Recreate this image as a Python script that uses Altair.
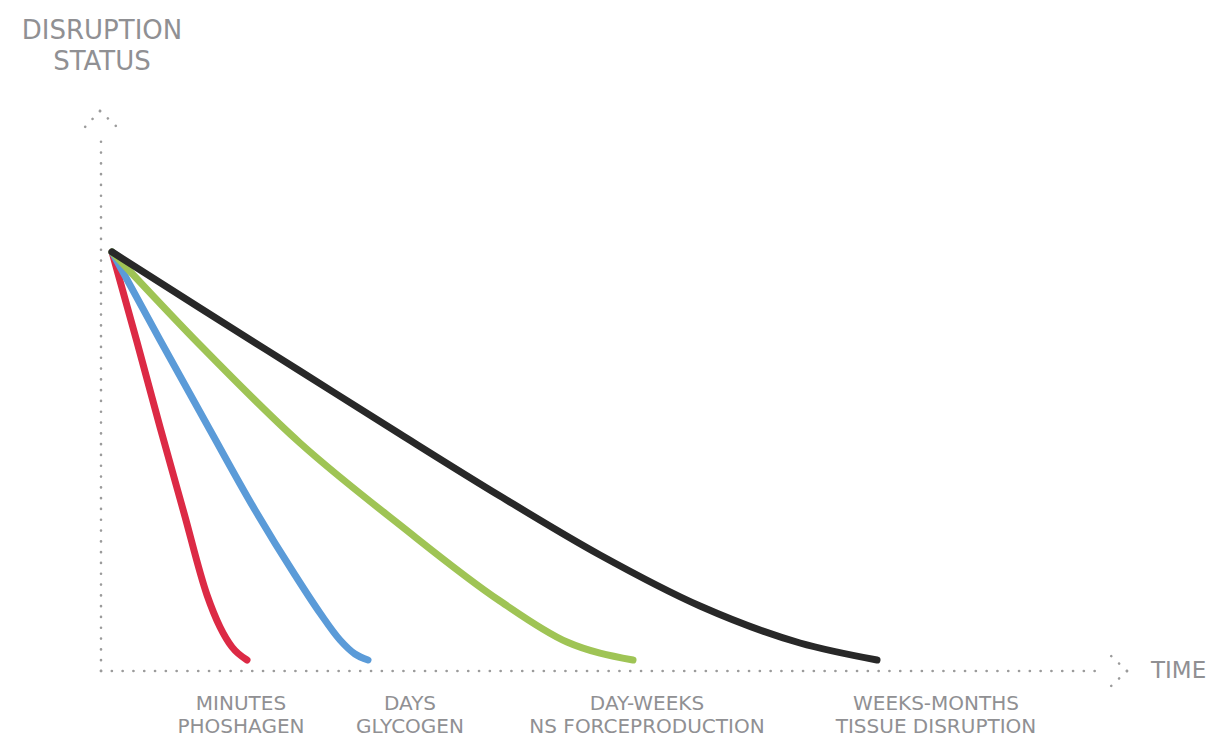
import altair as alt
import pandas as pd

# ---- data (x: time units from the origin, y: disruption status above baseline) ----
red_x = [11, 36, 59, 83, 106, 119, 131, 146]
red_y = [419, 329, 244, 158, 76, 44, 24, 11]

blue_x = [11, 59, 109, 154, 194, 219, 239, 254, 267]
blue_y = [419, 331, 241, 161, 96, 58, 31, 17, 11]

green_x = [11, 99, 199, 299, 399, 466, 532]
green_y = [419, 326, 228, 146, 70, 29, 11]

black_x = [11, 99, 199, 299, 399, 499, 599, 699, 776]
black_y = [419, 363, 300, 237, 175, 116, 65, 28, 11]

series_names = ["Phoshagen", "Glycogen", "NS Forceproduction", "Tissue Disruption"]
series_colors = ["#dc2a45", "#5b9bd8", "#9fc455", "#282828"]

label_x = [140, 309, 546, 835]
label_top = ["MINUTES", "DAYS", "DAY-WEEKS", "WEEKS-MONTHS"]
label_bottom = ["PHOSHAGEN", "GLYCOGEN", "NS FORCEPRODUCTION", "TISSUE DISRUPTION"]

y_title = ["DISRUPTION", "STATUS"]
x_title = "TIME"

# axis extents (dotted axes with chevron arrowheads)
x_axis_end = 997
y_axis_end = 531

# ---- tables ----
rows = []
for name, xs_, ys_ in zip(series_names,
                          [red_x, blue_x, green_x, black_x],
                          [red_y, blue_y, green_y, black_y]):
    for i, (a, b) in enumerate(zip(xs_, ys_)):
        rows.append({"series": name, "x": a, "y": b, "i": i})
lines_df = pd.DataFrame(rows)

segs = pd.DataFrame([
    {"x": 0, "y": 0, "x2": x_axis_end, "y2": 0},
    {"x": 0, "y": 0, "x2": 0, "y2": y_axis_end},
    {"x": -1, "y": 560, "x2": -16, "y2": 544},
    {"x": -1, "y": 560, "x2": 16, "y2": 544},
    {"x": 1026, "y": 0, "x2": 1008, "y2": 17},
    {"x": 1026, "y": 0, "x2": 1008, "y2": -17},
])

labels_df = pd.DataFrame(
    [{"x": lx, "y": -39, "t": a} for lx, a in zip(label_x, label_top)] +
    [{"x": lx, "y": -62, "t": b} for lx, b in zip(label_x, label_bottom)]
)
ytitle_df = pd.DataFrame([{"x": 1, "y": 632, "t": y_title[0]},
                          {"x": 1, "y": 601, "t": y_title[1]}])
xtitle_df = pd.DataFrame([{"x": 1050, "y": -7, "t": x_title}])

xs = alt.Scale(domain=[-93, 1108], nice=False, zero=False)
ys = alt.Scale(domain=[-66, 663], nice=False, zero=False)


def X(f="x"):
    return alt.X(f"{f}:Q", scale=xs, axis=None)


def Y(f="y"):
    return alt.Y(f"{f}:Q", scale=ys, axis=None)


axes = alt.Chart(segs).mark_rule(
    color="#9b9b9b", strokeWidth=2.6, strokeDash=[0.1, 10.7], strokeCap="round"
).encode(x=X(), y=Y(), x2="x2:Q", y2="y2:Q")

layers = [axes]
for name, col in zip(series_names, series_colors):
    layers.append(
        alt.Chart(lines_df).transform_filter(alt.datum.series == name)
        .mark_line(color=col, strokeWidth=7, strokeCap="round",
                   strokeJoin="round", interpolate="monotone")
        .encode(x=X(), y=Y(), order="i:Q")
    )

txt_color = "#909093"
labels = alt.Chart(labels_df).mark_text(
    font="DejaVu Sans", fontSize=20, color=txt_color, align="center",
    baseline="alphabetic"
).encode(x=X(), y=Y(), text="t:N")

ytitle = alt.Chart(ytitle_df).mark_text(
    font="DejaVu Sans", fontSize=26, color=txt_color, align="center",
    baseline="alphabetic"
).encode(x=X(), y=Y(), text="t:N")

xtitle = alt.Chart(xtitle_df).mark_text(
    font="DejaVu Sans", fontSize=23, color=txt_color, align="left",
    baseline="alphabetic"
).encode(x=X(), y=Y(), text="t:N")

chart = alt.layer(*layers, labels, ytitle, xtitle).properties(
    width=1201, height=729,
    autosize=alt.AutoSizeParams(type="none"),
    padding=0,
).configure_view(stroke=None)

chart.save("out.html", embed_options={"renderer": "svg", "actions": False})
